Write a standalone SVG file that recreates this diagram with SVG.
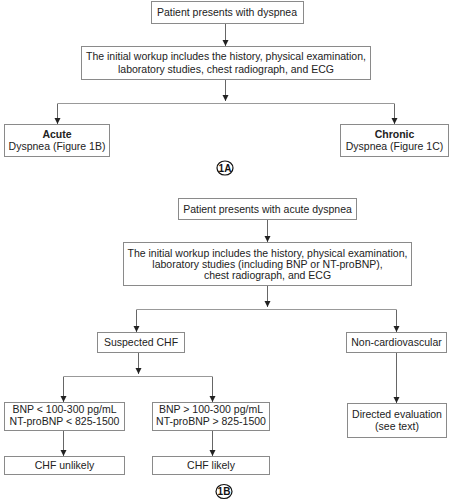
<svg xmlns="http://www.w3.org/2000/svg" width="451" height="500" viewBox="0 0 451 500">
<style>
  .box{fill:#fff;stroke:#8a8a8a;stroke-width:1}
  .t{font-family:"Liberation Sans",Arial,sans-serif;font-size:10.5px;fill:#222;text-anchor:middle}
  .b{font-weight:bold}
  .c{fill:none;stroke:#666;stroke-width:1}
  .h{fill:none;stroke:#999;stroke-width:1}
  .lbl{font-family:"Liberation Sans",Arial,sans-serif;font-size:10px;font-weight:bold;fill:#111;text-anchor:middle}
</style>
<defs>
  <marker id="ah" markerUnits="userSpaceOnUse" markerWidth="7" markerHeight="7" refX="6" refY="3" orient="auto">
    <path d="M0,0 L6,3 L0,6 z" fill="#222"/>
  </marker>
</defs>
<rect width="451" height="500" fill="#fff"/>
<g id="connectors">
  <line class="c" x1="225.5" y1="23" x2="225.5" y2="46" marker-end="url(#ah)"/>
  <line class="c" x1="225.5" y1="79" x2="225.5" y2="101" marker-end="url(#ah)"/>
  <path class="h" d="M57.5,124 V103.5 H394.5 V124"/>
  <line class="c" x1="57.5" y1="104" x2="57.5" y2="124" marker-end="url(#ah)"/>
  <line class="c" x1="394.5" y1="104" x2="394.5" y2="124" marker-end="url(#ah)"/>
  <line class="c" x1="267.5" y1="219" x2="267.5" y2="242" marker-end="url(#ah)"/>
  <line class="c" x1="267.5" y1="286" x2="267.5" y2="307" marker-end="url(#ah)"/>
  <path class="h" d="M136.5,331 V309.5 H396.5 V331"/>
  <line class="c" x1="136.5" y1="310" x2="136.5" y2="332" marker-end="url(#ah)"/>
  <line class="c" x1="396.5" y1="310" x2="396.5" y2="332" marker-end="url(#ah)"/>
  <line class="c" x1="138.5" y1="353" x2="138.5" y2="374" marker-end="url(#ah)"/>
  <path class="h" d="M63.5,401 V376.5 H212.5 V401"/>
  <line class="c" x1="63.5" y1="377" x2="63.5" y2="402" marker-end="url(#ah)"/>
  <line class="c" x1="212.5" y1="377" x2="212.5" y2="402" marker-end="url(#ah)"/>
  <line class="c" x1="396.5" y1="353" x2="396.5" y2="403" marker-end="url(#ah)"/>
  <line class="c" x1="63.5" y1="430" x2="63.5" y2="456" marker-end="url(#ah)"/>
  <line class="c" x1="212.5" y1="430" x2="212.5" y2="456" marker-end="url(#ah)"/>
</g>
<g id="n1"><rect class="box" x="151.5" y="1.5" width="152" height="22"/><text class="t" x="227" y="16">Patient presents with dyspnea</text></g>
<g id="n2"><rect class="box" x="81.5" y="46.5" width="289" height="33"/><text class="t" x="226" y="60">The initial workup includes the history, physical examination,</text><text class="t" x="226" y="73">laboratory studies, chest radiograph, and ECG</text></g>
<g id="acute"><rect class="box" x="4.5" y="124.5" width="105" height="32"/><text class="t b" x="57" y="137.5">Acute</text><text class="t" x="57" y="150">Dyspnea (Figure 1B)</text></g>
<g id="chronic"><rect class="box" x="340.5" y="124.5" width="108" height="32"/><text class="t b" x="394.5" y="137.5">Chronic</text><text class="t" x="394.5" y="150">Dyspnea (Figure 1C)</text></g>
<g id="label1A"><ellipse cx="225" cy="168" rx="8" ry="7" fill="none" stroke="#111" stroke-width="1.2"/><text class="lbl" x="225" y="171.5">1A</text></g>
<g id="n3"><rect class="box" x="178.5" y="198.5" width="178" height="21"/><text class="t" x="267.5" y="212.5">Patient presents with acute dyspnea</text></g>
<g id="n4"><rect class="box" x="123.5" y="242.5" width="288" height="43"/><text class="t" x="267.5" y="256.5">The initial workup includes the history, physical examination,</text><text class="t" x="267.5" y="267.5">laboratory studies (including BNP or NT-proBNP),</text><text class="t" x="267.5" y="278.5">chest radiograph, and ECG</text></g>
<g id="chf"><rect class="box" x="97.5" y="332.5" width="87" height="20"/><text class="t" x="141" y="346">Suspected CHF</text></g>
<g id="noncv"><rect class="box" x="346.5" y="332.5" width="100" height="20"/><text class="t" x="396.5" y="346">Non-cardiovascular</text></g>
<g id="bnplow"><rect class="box" x="4.5" y="402.5" width="120" height="28"/><text class="t" x="64.5" y="413">BNP &lt; 100-300 pg/mL</text><text class="t" x="64.5" y="424.5">NT-proBNP &lt; 825-1500</text></g>
<g id="bnphigh"><rect class="box" x="152.5" y="402.5" width="117" height="28"/><text class="t" x="211" y="413">BNP &gt; 100-300 pg/mL</text><text class="t" x="211" y="424.5">NT-proBNP &gt; 825-1500</text></g>
<g id="directed"><rect class="box" x="347.5" y="403.5" width="99" height="34"/><text class="t" x="397" y="418">Directed evaluation</text><text class="t" x="397" y="430">(see text)</text></g>
<g id="unlikely"><rect class="box" x="4.5" y="456.5" width="120" height="18"/><text class="t" x="64.5" y="469">CHF unlikely</text></g>
<g id="likely"><rect class="box" x="152.5" y="456.5" width="117" height="18"/><text class="t" x="211" y="469">CHF likely</text></g>
<g id="label1B"><ellipse cx="224" cy="491.5" rx="8" ry="7" fill="none" stroke="#111" stroke-width="1.2"/><text class="lbl" x="224" y="495">1B</text></g>
</svg>
